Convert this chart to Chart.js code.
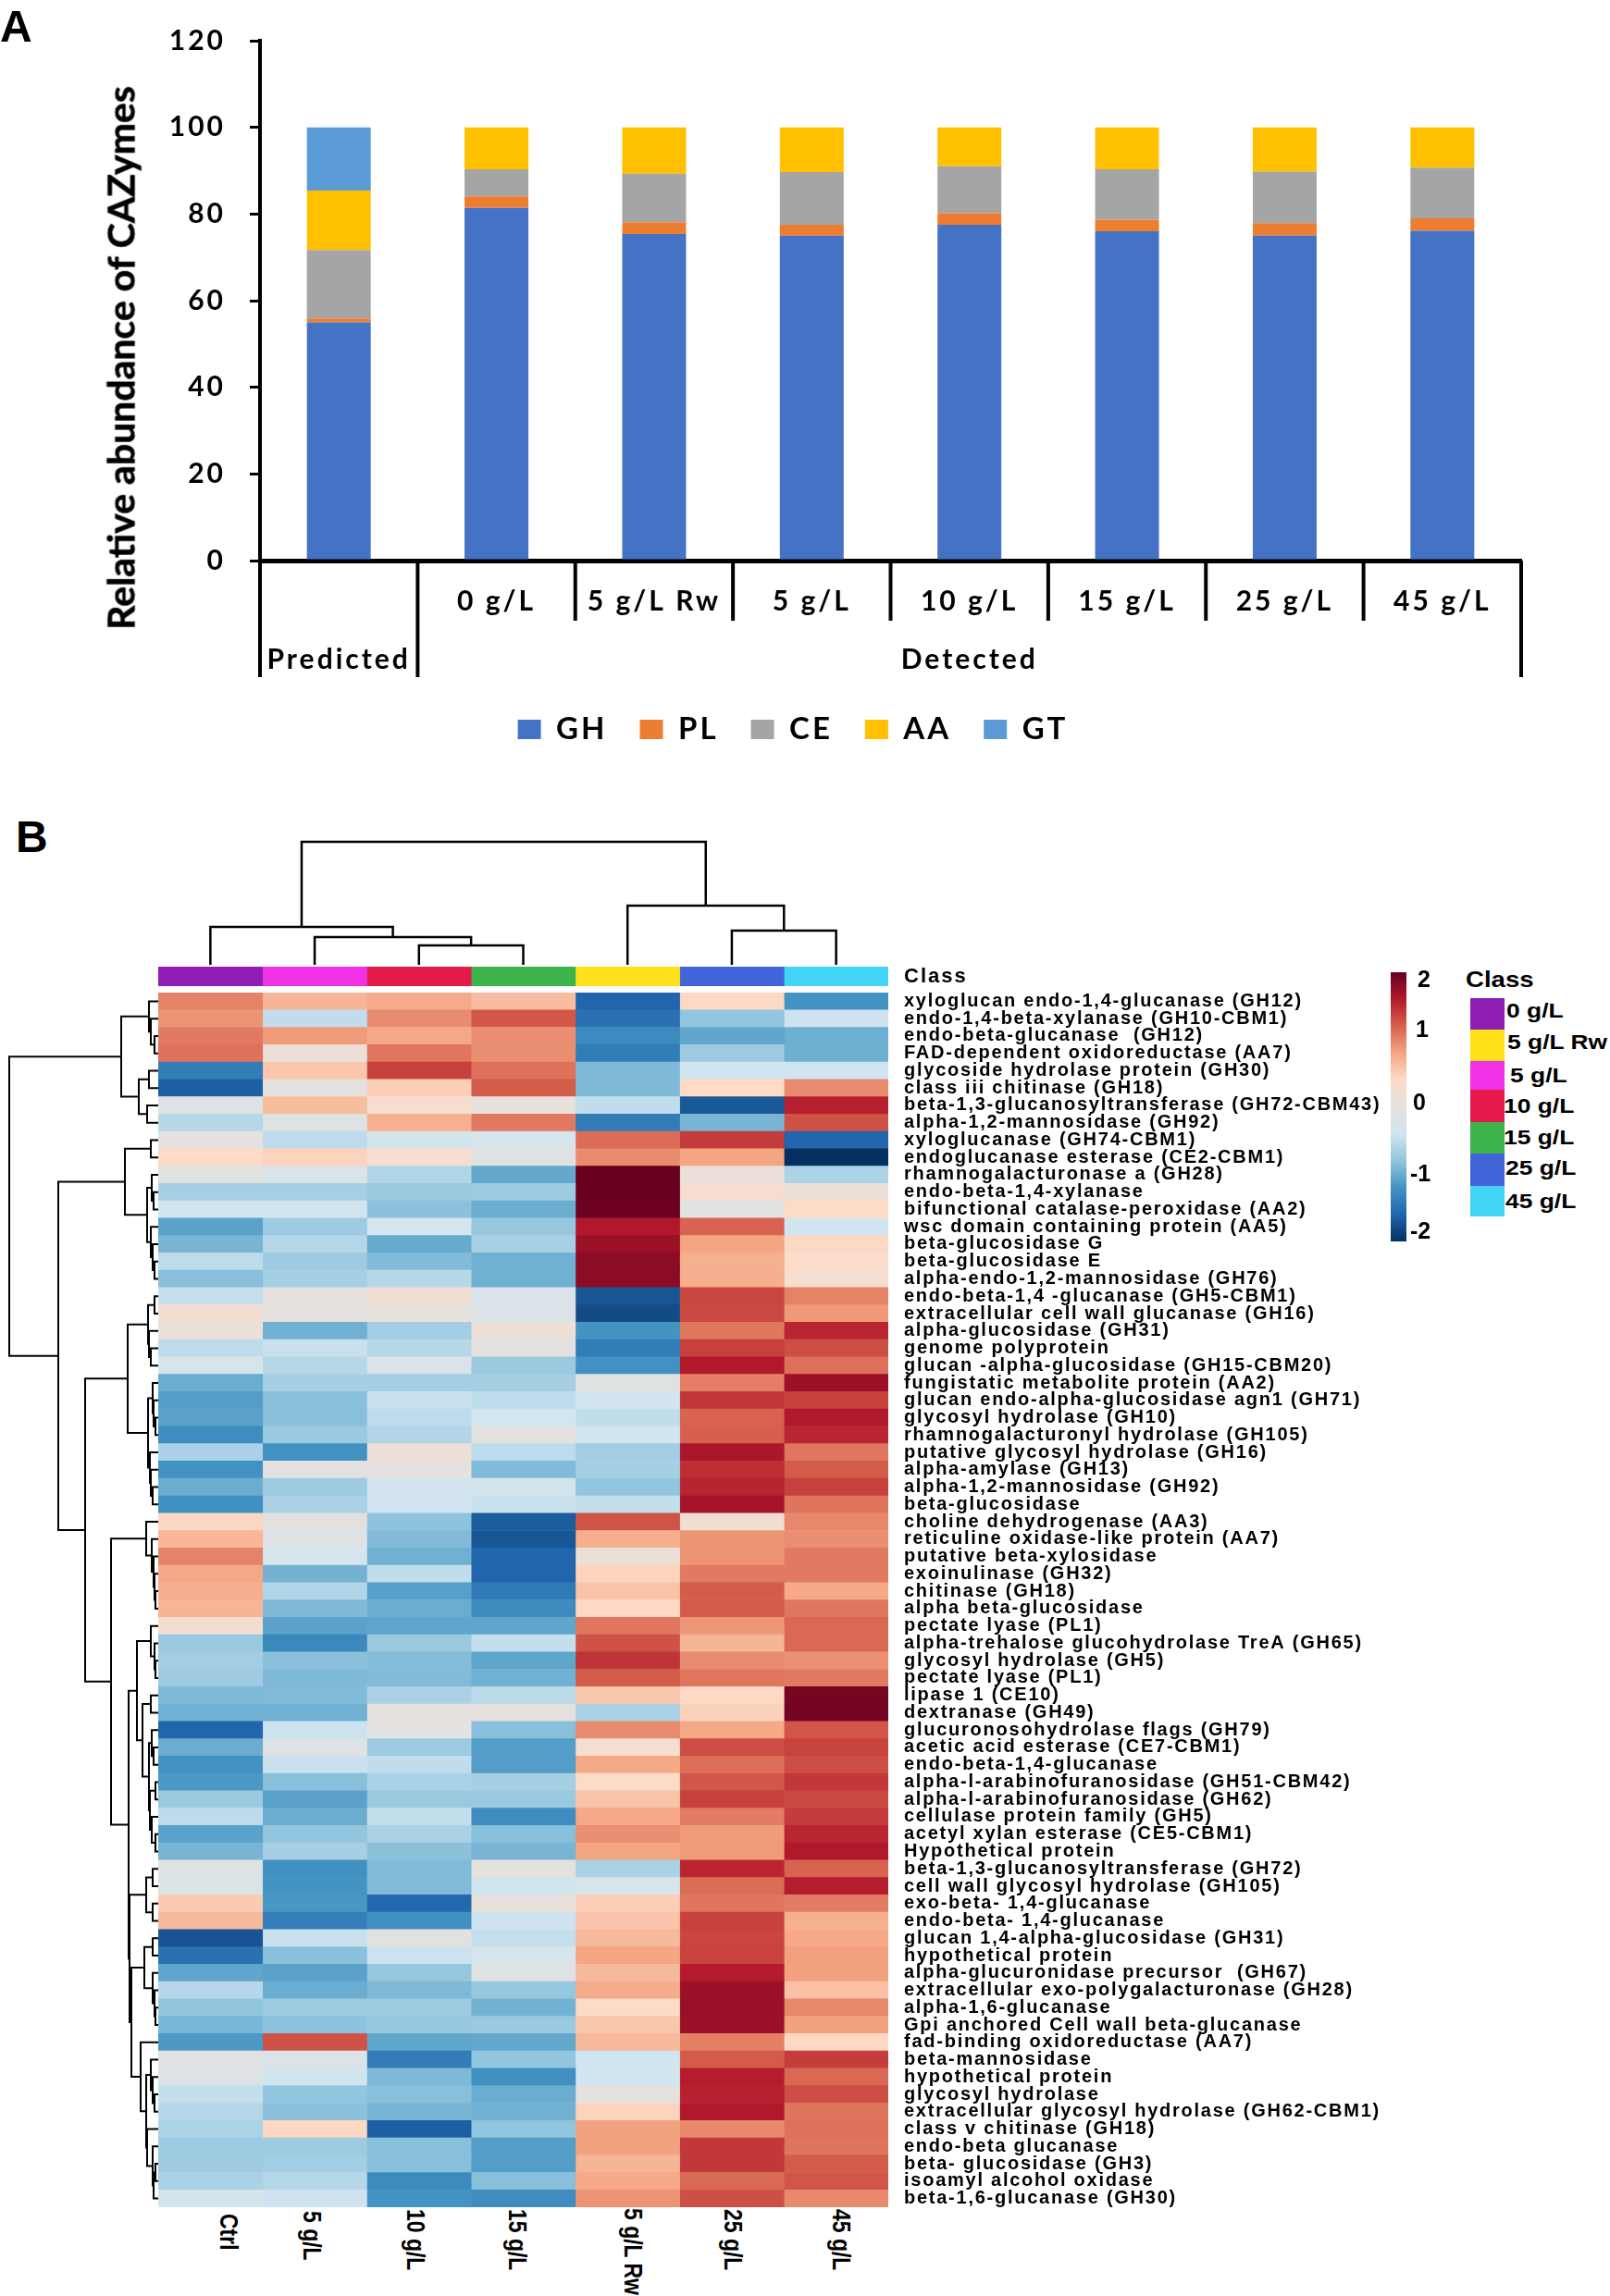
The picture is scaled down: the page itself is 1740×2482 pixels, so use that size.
<!DOCTYPE html>
<html>
<head>
<meta charset="utf-8">
<title>CAZymes</title>
<script src="https://cdn.jsdelivr.net/npm/chart.js@4"></script>
<style>
  html, body { margin: 0; padding: 0; background: #fff; }
  #page { position: relative; width: 1740px; height: 2482px; overflow: hidden; background: #fff; color: #000; font-family: "Liberation Sans", sans-serif; }
  canvas { position: absolute; }
  .txt { position: absolute; white-space: pre; font-weight: 700; line-height: 1; }
</style>
</head>
<body>
<div id="page">
  <canvas id="barChart" style="left:0;top:0;width:1714px;height:830px"></canvas>
  <canvas id="colTree" style="left:171px;top:903px;width:789px;height:140px"></canvas>
  <canvas id="classStrip" style="left:171px;top:1045px;width:1400px;height:21px"></canvas>
  <canvas id="rowTree" style="left:0;top:1073px;width:171px;height:1313px"></canvas>
  <canvas id="heatmap" style="left:171px;top:1073px;width:1400px;height:1313px"></canvas>
  <div id="colorbar" style="position:absolute;left:1503px;top:1051px;width:17px;height:291px"></div>
</div>
<script>
// panel A
const barLabels = [['', 'Predicted'], ['0 g/L', ''], ['5 g/L Rw', ''], ['5 g/L', ''], ['10 g/L', 'Detected'], ['15 g/L', ''], ['25 g/L', ''], ['45 g/L', '']];
const ghValues = [55, 81.4, 75.4, 75, 77.5, 76, 75, 76.1];
const plValues = [0.9, 2.7, 2.7, 2.5, 2.7, 2.7, 2.9, 2.9];
const ceValues = [15.8, 6.2, 11.2, 12.2, 10.8, 11.6, 11.9, 11.7];
const aaValues = [13.7, 9.7, 10.7, 10.3, 9, 9.7, 10.2, 9.3];
const gtValues = [14.6, 0, 0, 0, 0, 0, 0, 0];
const longDividers = [0, 1, 8];
const shortDividers = [2, 3, 4, 5, 6, 7];

// panel B
const columns = ['Ctrl', '5 g/L', '10 g/L', '15 g/L', '5 g/L Rw', '25 g/L', '45 g/L'];
const columnColors = ['#911eb4', '#f032e6', '#e6194b', '#3cb44b', '#ffe119', '#4363d8', '#42d4f4'];
const classNames = ['0 g/L', '5 g/L Rw', '5 g/L', '10 g/L', '15 g/L', '25 g/L', '45 g/L'];
const classColors = ['#911eb4', '#ffe119', '#f032e6', '#e6194b', '#3cb44b', '#4363d8', '#42d4f4'];

const genes = [
  'xyloglucan endo-1,4-glucanase (GH12)', 'endo-1,4-beta-xylanase (GH10-CBM1)', 'endo-beta-glucanase  (GH12)',
  'FAD-dependent oxidoreductase (AA7)', 'glycoside hydrolase protein (GH30)', 'class iii chitinase (GH18)',
  'beta-1,3-glucanosyltransferase (GH72-CBM43)', 'alpha-1,2-mannosidase (GH92)', 'xyloglucanase (GH74-CBM1)',
  'endoglucanase esterase (CE2-CBM1)', 'rhamnogalacturonase a (GH28)', 'endo-beta-1,4-xylanase',
  'bifunctional catalase-peroxidase (AA2)', 'wsc domain containing protein (AA5)', 'beta-glucosidase G',
  'beta-glucosidase E', 'alpha-endo-1,2-mannosidase (GH76)', 'endo-beta-1,4 -glucanase (GH5-CBM1)',
  'extracellular cell wall glucanase (GH16)', 'alpha-glucosidase (GH31)', 'genome polyprotein',
  'glucan -alpha-glucosidase (GH15-CBM20)', 'fungistatic metabolite protein (AA2)', 'glucan endo-alpha-glucosidase agn1 (GH71)',
  'glycosyl hydrolase (GH10)', 'rhamnogalacturonyl hydrolase (GH105)', 'putative glycosyl hydrolase (GH16)',
  'alpha-amylase (GH13)', 'alpha-1,2-mannosidase (GH92)', 'beta-glucosidase',
  'choline dehydrogenase (AA3)', 'reticuline oxidase-like protein (AA7)', 'putative beta-xylosidase',
  'exoinulinase (GH32)', 'chitinase (GH18)', 'alpha beta-glucosidase',
  'pectate lyase (PL1)', 'alpha-trehalose glucohydrolase TreA (GH65)', 'glycosyl hydrolase (GH5)',
  'pectate lyase (PL1)', 'lipase 1 (CE10)', 'dextranase (GH49)',
  'glucuronosohydrolase flags (GH79)', 'acetic acid esterase (CE7-CBM1)', 'endo-beta-1,4-glucanase',
  'alpha-l-arabinofuranosidase (GH51-CBM42)', 'alpha-l-arabinofuranosidase (GH62)', 'cellulase protein family (GH5)',
  'acetyl xylan esterase (CE5-CBM1)', 'Hypothetical protein', 'beta-1,3-glucanosyltransferase (GH72)',
  'cell wall glycosyl hydrolase (GH105)', 'exo-beta- 1,4-glucanase', 'endo-beta- 1,4-glucanase',
  'glucan 1,4-alpha-glucosidase (GH31)', 'hypothetical protein', 'alpha-glucuronidase precursor  (GH67)',
  'extracellular exo-polygalacturonase (GH28)', 'alpha-1,6-glucanase', 'Gpi anchored Cell wall beta-glucanase',
  'fad-binding oxidoreductase (AA7)', 'beta-mannosidase', 'hypothetical protein',
  'glycosyl hydrolase', 'extracellular glycosyl hydrolase (GH62-CBM1)', 'class v chitinase (GH18)',
  'endo-beta glucanase', 'beta- glucosidase (GH3)', 'isoamyl alcohol oxidase', 'beta-1,6-glucanase (GH30)'
];

// z-scores, one row per gene
const heatValues = [
  [1.0, .68, .76, .62, -1.6, .42, -1.2],
  [.9, -.5, .95, 1.25, -1.5, -.8, -.42],
  [1.05, .85, .78, .93, -1.28, -1.05, -.98],
  [1.1, .12, 1.07, .93, -1.4, -.72, -.98],
  [-1.4, .55, 1.38, 1.1, -.9, -.4, -.41],
  [-1.65, 0, .5, 1.22, -.9, .4, .95],
  [-.1, .63, .3, .08, -.5, -1.7, 1.55],
  [-.57, -.08, .72, 1.05, -1.4, -.93, 1.28],
  [.02, -.52, -.33, -.28, 1.13, 1.4, -1.6],
  [.4, .45, .27, -.07, .95, .8, -2],
  [-.07, -.2, -.6, -1.03, 2, .1, -.63],
  [-.67, -.67, -.75, -.73, 2, .27, .13],
  [-.4, -.37, -.83, -1, 1.97, -.05, .4],
  [-1.08, -.72, -.35, -.77, 1.6, 1.18, -.4],
  [-.93, -.58, -1.02, -.66, 1.73, .8, .42],
  [-.52, -.72, -.88, -.97, 1.8, .72, .37],
  [-.85, -.68, -.57, -.97, 1.8, .73, .27],
  [-.47, .02, .22, -.2, -1.72, 1.35, 1],
  [.2, .03, .03, -.18, -1.8, 1.33, .87],
  [.13, -.97, -.7, .13, -1.2, 1.07, 1.52],
  [-.52, -.45, -.57, -.02, -1.4, 1.38, 1.3],
  [-.27, -.57, -.2, -.75, -1.22, 1.6, 1.1],
  [-1, -.67, -.7, -.67, -.07, 1.02, 1.72],
  [-1.12, -.85, -.45, -.53, -.37, 1.43, 1.38],
  [-1.08, -.85, -.52, -.35, -.5, 1.18, 1.6],
  [-1.25, -.75, -.6, -.03, -.4, 1.2, 1.52],
  [-.65, -1.22, .12, -.53, -.7, 1.63, 1.07],
  [-1.22, -.03, .02, -.88, -.68, 1.48, 1.23],
  [-1, -.72, -.33, -.37, -.8, 1.53, 1.38],
  [-1.23, -.65, -.4, -.45, -.48, 1.67, 1.08],
  [.43, -.02, -.82, -1.67, 1.27, .22, .97],
  [.67, -.12, -.88, -1.72, .73, .9, .93],
  [1, -.3, -.97, -1.6, .13, .9, 1.05],
  [.78, -.95, -.5, -1.6, .45, 1.05, 1.05],
  [.73, -.6, -1.1, -1.42, .58, 1.22, .77],
  [.68, -.9, -1, -1.27, .42, 1.22, 1.07],
  [.25, -1.08, -1.06, -1.06, 1.07, .88, 1.15],
  [-.75, -1.3, -.75, -.48, 1.28, .68, 1.15],
  [-.7, -.83, -.87, -1.06, 1.45, .95, .92],
  [-.72, -.9, -.88, -.97, 1.23, 1.07, 1.05],
  [-.9, -.88, -.65, -.54, .55, .42, 1.92],
  [-.97, -.97, .02, .05, -.65, .47, 1.93],
  [-1.6, -.43, -.05, -.85, .95, .77, 1.26],
  [-1, -.12, -.72, -1.12, .27, 1.3, 1.36],
  [-1.22, -.44, -.5, -1.12, .77, 1.12, 1.3],
  [-1.15, -.85, -.65, -.68, .38, 1.25, 1.42],
  [-.75, -1.08, -.75, -.75, .58, 1.38, 1.33],
  [-.52, -1, -.48, -1.26, .78, 1.04, 1.4],
  [-1.08, -.8, -.65, -.85, .93, .85, 1.52],
  [-.93, -.67, -.83, -.93, .8, .86, 1.6],
  [-.08, -1.23, -.88, .02, -.65, 1.52, 1.18],
  [-.22, -1.2, -.88, -.4, -.27, 1.13, 1.57],
  [.52, -1.17, -1.57, .08, .5, 1.08, 1.04],
  [.65, -1.38, -1.23, -.42, .57, 1.37, .72],
  [-1.73, -.45, -.02, -.47, .65, 1.35, .77],
  [-1.5, -.83, -.43, -.3, .8, 1.36, .83],
  [-1.06, -1.08, -.78, -.1, .65, 1.58, .82],
  [-.58, -1, -.9, -.78, .75, 1.72, .6],
  [-.8, -.74, -.72, -.95, .38, 1.73, .97],
  [-.92, -.82, -.77, -.75, .55, 1.72, .82],
  [-1.15, 1.28, -1.05, -1.03, .65, 1.02, .42],
  [-.06, -.2, -1.4, -.8, -.4, 1.23, 1.4],
  [-.18, -.37, -.9, -1.23, -.37, 1.57, 1.15],
  [-.48, -.8, -.85, -1, .02, 1.55, 1.3],
  [-.57, -.83, -.93, -.97, .45, 1.6, 1.08],
  [-.63, .43, -1.65, -.8, .82, .96, 1.1],
  [-.73, -.72, -.85, -1.12, .82, 1.42, 1.08],
  [-.72, -.7, -.85, -1.12, .68, 1.42, 1.22],
  [-.65, -.58, -1.28, -.85, .77, 1.15, 1.26],
  [-.33, -.42, -1.2, -1.26, .9, 1.29, .96]
];

// dendrograms as [height, childA, childB], a bare number is a leaf index
const columnTree = [133, [41, 0, [30, 1, [21, 2, 3]]], [64, 4, [37, 5, 6]]];
const geneTree = [161,
  [40,
    [10, 0, [8, 1, [4, 2, 3]]],
    [21, [10, 4, 5], [12, 6, 7]]],
  [108,
    [36,
      [8, 8, 9],
      [12, [7, 10, [5, 11, 12]], [8, 13, [6, 14, [4, 15, 16]]]]],
    [79,
      [33,
        [11, [4, 17, 18], [10, 19, [8, 20, 21]]],
        [11, [6, 22, [5, 23, [3, 24, 25]]], [9, 26, [8, 27, [6, 28, 29]]]]],
      [51,
        [13, 30, [7, 31, [5, 32, [4, 33, [3, 34, 35]]]]],
        [32,
          [23,
            [8, 36, [4, 37, [3, 38, 39]]],
            [17, [8, 40, 41], [10, [7, 42, [5, 43, 44]], [9, [3, 45, 46], [7, 47, [3, 48, 49]]]]]],
          [31,
            [13, [6, 50, 51], [6, 52, 53]],
            [29,
              [15, [6, 54, 55], [6, 56, [4, 57, [3, 58, 59]]]],
              [19, 60,
                [13,
                  [8, 61, [6, 62, [4, 63, 64]]],
                  [12, 65, [6, 66, [5, [3, 67, 68], 69]]]]]]]]]]]];

const colorStops = [
  [-2, [5, 48, 97]], [-1.6, [33, 102, 172]], [-1.2, [67, 147, 195]], [-0.8, [146, 197, 222]], [-0.4, [209, 229, 240]],
  [0, [227, 225, 223]], [0.4, [253, 219, 199]], [0.8, [244, 165, 130]], [1.2, [214, 96, 77]], [1.6, [178, 24, 43]], [2, [103, 0, 31]]
];

function heatColor(v) {
  for (let i = 1; i < colorStops.length; i++) {
    if (v <= colorStops[i][0]) {
      const [a, ca] = colorStops[i - 1];
      const [b, cb] = colorStops[i];
      const t = (v - a) / (b - a);
      return 'rgb(' + ca.map((c, k) => Math.round(c + (cb[k] - c) * t)).join(',') + ')';
    }
  }
  return 'rgb(103,0,31)';
}

// walks a tree and gives the elbow points, null breaks the line between elbows
function treePoints(node, toPoint, out) {
  if (typeof node === 'number') return { pos: node + 0.5, h: 0 };
  const a = treePoints(node[1], toPoint, out);
  const b = treePoints(node[2], toPoint, out);
  out.push(toPoint(a.h, a.pos), toPoint(node[0], a.pos), toPoint(node[0], b.pos), toPoint(b.h, b.pos), { x: null, y: null });
  return { pos: (a.pos + b.pos) / 2, h: node[0] };
}

function spacing(px) {
  const set = chart => { chart.ctx.letterSpacing = px; };
  return { id: 'spacing', beforeLayout: set, beforeDraw: set };
}

const dividers = {
  id: 'dividers',
  afterDraw(chart) {
    const ctx = chart.ctx, x = chart.scales.x, top = x.top;
    ctx.save();
    ctx.strokeStyle = '#000';
    ctx.lineWidth = 4;
    const line = (k, len) => {
      const px = x.getPixelForValue(k - 0.5);
      ctx.beginPath();
      ctx.moveTo(px, top);
      ctx.lineTo(px, top + len);
      ctx.stroke();
    };
    longDividers.forEach(k => line(k, 126));
    shortDividers.forEach(k => line(k, 65));
    ctx.restore();
  }
};

const barSeries = [
  ['GH', ghValues, '#4472c4'], ['PL', plValues, '#ed7d31'], ['CE', ceValues, '#a5a5a5'], ['AA', aaValues, '#ffc000'], ['GT', gtValues, '#5b9bd5']
];

new Chart(document.getElementById('barChart'), {
  type: 'bar',
  data: {
    labels: barLabels,
    datasets: barSeries.map(([label, data, color]) => ({ label, data, backgroundColor: color, barPercentage: 0.405, categoryPercentage: 1 }))
  },
  options: {
    responsive: false,
    animation: false,
    layout: { padding: { top: 36, right: 70, bottom: 15, left: 70 } },
    plugins: {
      tooltip: { enabled: false },
      legend: {
        position: 'bottom',
        labels: { color: '#000', boxWidth: 25, boxHeight: 21, padding: 35, font: { family: 'Lato', weight: '700', size: 33 } }
      }
    },
    scales: {
      x: {
        stacked: true,
        afterFit(s) { s.height = 131; },
        grid: { display: false },
        border: { color: '#000', width: 5 },
        ticks: { color: '#000', padding: 5, autoSkip: false, maxRotation: 0, font: { family: 'Lato', weight: '700', size: 30, lineHeight: 2.1 } }
      },
      y: {
        stacked: true,
        min: 0,
        max: 120,
        afterFit(s) { s.width = 211; },
        grid: { drawOnChartArea: false, color: '#000', lineWidth: 3, tickLength: 11 },
        border: { color: '#000', width: 4 },
        ticks: { color: '#000', stepSize: 20, padding: 26, font: { family: 'Lato', weight: '700', size: 30 } }
      }
    }
  },
  plugins: [spacing('3px'), dividers]
});

const treeOptions = xScale => yScale => ({
  responsive: false,
  animation: false,
  layout: { padding: 0 },
  plugins: { legend: { display: false }, tooltip: { enabled: false } },
  scales: { x: Object.assign({ type: 'linear', display: false }, xScale), y: Object.assign({ type: 'linear', display: false }, yScale) }
});

const colSegments = [];
treePoints(columnTree, (h, pos) => ({ x: pos, y: h }), colSegments);
new Chart(document.getElementById('colTree'), {
  type: 'scatter',
  data: { datasets: [{ data: colSegments, showLine: true, spanGaps: false, pointRadius: 0, borderColor: '#000', borderWidth: 2.5, clip: false }] },
  options: treeOptions({ min: 0, max: 7 })({ min: 0, max: 140 })
});

const rowSegments = [];
treePoints(geneTree, (h, pos) => ({ x: h, y: pos }), rowSegments);
new Chart(document.getElementById('rowTree'), {
  type: 'scatter',
  data: { datasets: [{ data: rowSegments, showLine: true, spanGaps: false, pointRadius: 0, borderColor: '#000', borderWidth: 2, clip: false }] },
  options: treeOptions({ min: 0, max: 171, reverse: true })({ min: 0, max: 70, reverse: true })
});

const labelAxis = size => ({
  position: 'right',
  // no room kept for half a label above and below, the cells fill the canvas height
  afterFit(s) { s.width = 1400 - 789; s.paddingTop = 0; s.paddingBottom = 0; },
  grid: { display: false, drawTicks: false },
  border: { display: false },
  ticks: { color: '#000', padding: 17, autoSkip: false, font: { family: 'Liberation Sans', weight: '700', size } }
});

new Chart(document.getElementById('classStrip'), {
  type: 'bar',
  data: {
    labels: ['Class'],
    datasets: columns.map((c, i) => ({ label: c, data: [[i, i + 1]], backgroundColor: columnColors[i], grouped: false, barPercentage: 1, categoryPercentage: 1 }))
  },
  options: {
    indexAxis: 'y',
    responsive: false,
    animation: false,
    layout: { padding: 0 },
    plugins: { legend: { display: false }, tooltip: { enabled: false } },
    scales: { x: { type: 'linear', min: 0, max: 7, display: false }, y: labelAxis(22) }
  },
  plugins: [spacing('2px')]
});

new Chart(document.getElementById('heatmap'), {
  type: 'bar',
  data: {
    labels: genes,
    datasets: columns.map((c, i) => ({
      label: c,
      data: heatValues.map(() => [i, i + 1]),
      backgroundColor: heatValues.map(row => heatColor(row[i])),
      grouped: false,
      barPercentage: 1,
      categoryPercentage: 1
    }))
  },
  options: {
    indexAxis: 'y',
    responsive: false,
    animation: false,
    layout: { padding: 0 },
    plugins: { legend: { display: false }, tooltip: { enabled: false } },
    scales: { x: { type: 'linear', min: 0, max: 7, display: false }, y: labelAxis(20) }
  },
  plugins: [spacing('1.75px')]
});

// loose text and the side legends
const page = document.getElementById('page');
function addText(text, x, y, size, css) {
  const d = document.createElement('div');
  d.className = 'txt';
  d.textContent = text;
  d.style.left = x + 'px';
  d.style.top = y + 'px';
  d.style.fontSize = size + 'px';
  d.style.cssText += css || '';
  page.appendChild(d);
  return d;
}

addText('A', 0, 5, 48);
addText('B', 17, 881, 48);
addText('Relative abundance of CAZymes', 130, 387, 41, 'font-family:Lato;-webkit-text-stroke:0.6px #000;transform:translate(-50%,-50%) rotate(-90deg);');

const stretch = 'transform:translateY(-50%) scaleX(1.2);transform-origin:left center;';
const colorbarLabels = [['2', 1532, 1058], ['1', 1530, 1112], ['0', 1527, 1191], ['-1', 1524, 1268], ['-2', 1524, 1330]];
colorbarLabels.forEach(([t, x, y]) => addText(t, x, y, 25, 'transform:translateY(-50%);'));
document.getElementById('colorbar').style.background =
  'linear-gradient(to top,' + colorStops.map(s => heatColor(s[0])).join(',') + ')';

addText('Class', 1584, 1059, 24, 'transform:translateY(-50%) scaleX(1.15);transform-origin:left center;');
const legendTop = [1079, 1113, 1147, 1178, 1213, 1247, 1282, 1315];
const legendTextX = [1628, 1629, 1632, 1625, 1625, 1627, 1627];
const legendTextY = [1093, 1127, 1163, 1196, 1230, 1263, 1299];
classNames.forEach((name, i) => {
  const box = document.createElement('div');
  box.style.cssText = 'position:absolute;left:1589px;width:37px;background:' + classColors[i] +
    ';top:' + legendTop[i] + 'px;height:' + (legendTop[i + 1] - legendTop[i]) + 'px';
  page.appendChild(box);
  addText(name, legendTextX[i], legendTextY[i], 22, stretch);
});

const columnLabelX = [247, 337, 449, 559, 684, 792, 909];
const columnLabelY = [2393, 2390, 2388, 2388, 2387, 2388, 2388];
columns.forEach((c, i) => {
  addText(c, columnLabelX[i], columnLabelY[i], 28,
    'transform:translateY(-50%) rotate(90deg) scaleX(0.82);transform-origin:left center;');
});
</script>
</body>
</html>
